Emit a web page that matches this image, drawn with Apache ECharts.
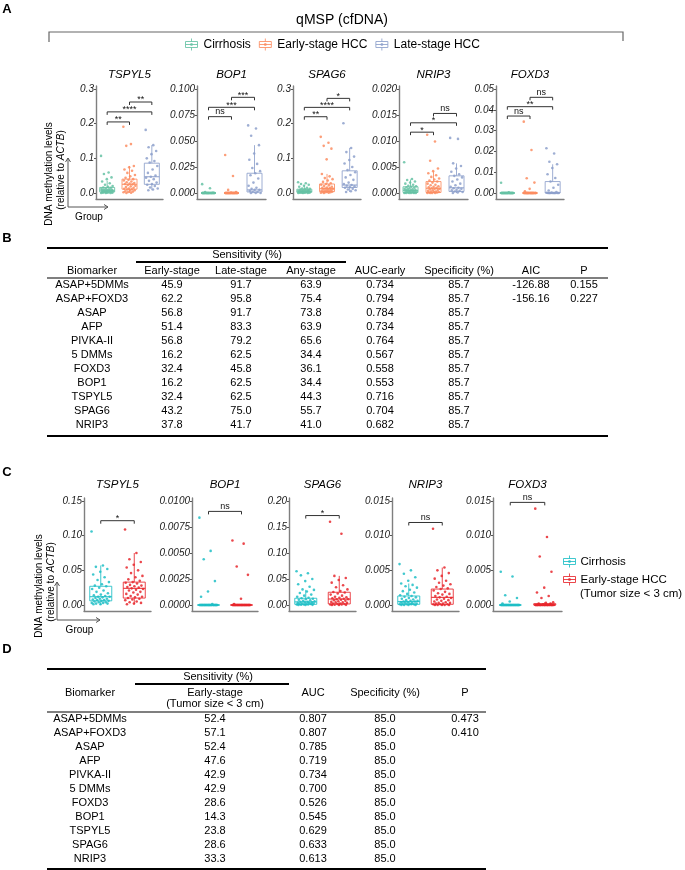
<!DOCTYPE html>
<html>
<head>
<meta charset="utf-8">
<script src="https://cdn.jsdelivr.net/npm/echarts@6.0.0/dist/echarts.min.js"></script>
<style>html,body{margin:0;padding:0;background:#fff;}#chart{width:685px;height:870px;}</style>
</head>
<body>
<div id="chart"></div>
<script>
// ================= DATA =================
const genes = ['TSPYL5', 'BOP1', 'SPAG6', 'NRIP3', 'FOXD3'];
const groupsA = ['Cirrhosis', 'Early-stage HCC', 'Late-stage HCC'];
const groupsC = ['Cirrhosis', 'Early-stage HCC (Tumor size < 3 cm)'];

// tick labels
const ticksA_TSPYL5 = ['0.0', '0.1', '0.2', '0.3'];
const ticksA_BOP1 = ['0.000', '0.025', '0.050', '0.075', '0.100'];
const ticksA_SPAG6 = ['0.0', '0.1', '0.2', '0.3'];
const ticksA_NRIP3 = ['0.000', '0.005', '0.010', '0.015', '0.020'];
const ticksA_FOXD3 = ['0.00', '0.01', '0.02', '0.03', '0.04', '0.05'];
const ticksC_TSPYL5 = ['0.00', '0.05', '0.10', '0.15'];
const ticksC_BOP1 = ['0.0000', '0.0025', '0.0050', '0.0075', '0.0100'];
const ticksC_SPAG6 = ['0.00', '0.05', '0.10', '0.15', '0.20'];
const ticksC_NRIP3 = ['0.000', '0.005', '0.010', '0.015'];
const ticksC_FOXD3 = ['0.000', '0.005', '0.010', '0.015'];

// box statistics [min, Q1, median, Q3, max] per group (panel A: cirrhosis, early, late)
const boxA_TSPYL5 = [[0, 0.003, 0.008, 0.016, 0.035], [0, 0.011, 0.025, 0.040, 0.078], [0.008, 0.025, 0.047, 0.086, 0.138]];
const boxA_BOP1 = [[0, 0, 0, 0, 0], [0, 0, 0, 0, 0], [0, 0.001, 0.003, 0.019, 0.046]];
const boxA_SPAG6 = [[0, 0.002, 0.005, 0.011, 0.024], [0, 0.004, 0.013, 0.026, 0.055], [0.003, 0.016, 0.023, 0.064, 0.130]];
const boxA_NRIP3 = [[0, 0.0001, 0.0005, 0.0012, 0.0026], [0, 0.0001, 0.0009, 0.0022, 0.0042], [0, 0.0003, 0.0010, 0.0033, 0.0057]];
const boxA_FOXD3 = [[0, 0, 0, 0, 0], [0, 0, 0, 0, 0], [0, 0, 0.0002, 0.0055, 0.0138]];

// individual samples (panel A)
const ptsA_TSPYL5 = [
  [0.107, 0.059, 0.055, 0.045, 0.040, 0.033, 0.028, 0.024, 0.020, 0.018, 0.016, 0.015, 0.013, 0.012, 0.011, 0.010, 0.009, 0.008, 0.008, 0.007, 0.006, 0.005, 0.005, 0.004, 0.004, 0.003, 0.003, 0.002, 0.002, 0.001, 0.001, 0.001, 0, 0, 0],
  [0.191, 0.141, 0.136, 0.078, 0.074, 0.068, 0.064, 0.058, 0.052, 0.048, 0.044, 0.040, 0.038, 0.036, 0.033, 0.031, 0.029, 0.027, 0.026, 0.025, 0.023, 0.021, 0.019, 0.017, 0.015, 0.013, 0.012, 0.011, 0.010, 0.008, 0.007, 0.005, 0.004, 0.003, 0.002, 0.001, 0],
  [0.182, 0.138, 0.132, 0.121, 0.112, 0.100, 0.092, 0.088, 0.078, 0.068, 0.058, 0.050, 0.047, 0.044, 0.040, 0.035, 0.030, 0.026, 0.024, 0.020, 0.016, 0.013, 0.010, 0.008]
];
const ptsA_BOP1 = [
  [0.0085, 0.0045, 0.0008, 0.0003, 0, 0, 0, 0, 0, 0, 0, 0, 0, 0, 0, 0, 0, 0, 0, 0, 0, 0, 0, 0, 0, 0, 0, 0, 0, 0, 0, 0, 0, 0, 0],
  [0.0365, 0.0163, 0.003, 0.001, 0.0005, 0, 0, 0, 0, 0, 0, 0, 0, 0, 0, 0, 0, 0, 0, 0, 0, 0, 0, 0, 0, 0, 0, 0, 0, 0, 0, 0, 0, 0, 0, 0, 0],
  [0.065, 0.062, 0.055, 0.046, 0.038, 0.032, 0.028, 0.024, 0.021, 0.019, 0.017, 0.014, 0.010, 0.007, 0.005, 0.004, 0.003, 0.003, 0.002, 0.001, 0.001, 0, 0, 0]
];
const ptsA_SPAG6 = [
  [0.031, 0.028, 0.026, 0.024, 0.021, 0.018, 0.015, 0.013, 0.012, 0.011, 0.010, 0.009, 0.008, 0.007, 0.007, 0.006, 0.006, 0.005, 0.005, 0.004, 0.004, 0.004, 0.003, 0.003, 0.003, 0.002, 0.002, 0.002, 0.001, 0.001, 0.001, 0.001, 0, 0, 0],
  [0.162, 0.145, 0.136, 0.128, 0.097, 0.055, 0.048, 0.043, 0.040, 0.036, 0.032, 0.028, 0.026, 0.024, 0.022, 0.020, 0.018, 0.016, 0.015, 0.014, 0.013, 0.012, 0.011, 0.010, 0.009, 0.008, 0.007, 0.006, 0.005, 0.004, 0.004, 0.003, 0.002, 0.002, 0.001, 0.001, 0],
  [0.201, 0.130, 0.118, 0.105, 0.095, 0.085, 0.075, 0.066, 0.060, 0.052, 0.045, 0.038, 0.030, 0.026, 0.023, 0.021, 0.019, 0.017, 0.015, 0.012, 0.010, 0.008, 0.005, 0.003]
];
const ptsA_NRIP3 = [
  [0.0059, 0.0027, 0.0025, 0.0022, 0.0020, 0.0018, 0.0016, 0.0014, 0.0013, 0.0012, 0.0011, 0.0010, 0.0009, 0.0008, 0.0007, 0.0007, 0.0006, 0.0005, 0.0005, 0.0004, 0.0004, 0.0003, 0.0003, 0.0002, 0.0002, 0.0002, 0.0001, 0.0001, 0.0001, 0, 0, 0, 0, 0, 0],
  [0.0112, 0.0099, 0.0062, 0.0047, 0.0042, 0.0038, 0.0034, 0.0031, 0.0028, 0.0026, 0.0024, 0.0022, 0.0020, 0.0018, 0.0016, 0.0015, 0.0013, 0.0012, 0.0011, 0.0010, 0.0009, 0.0008, 0.0008, 0.0007, 0.0006, 0.0005, 0.0004, 0.0003, 0.0003, 0.0002, 0.0002, 0.0001, 0.0001, 0, 0, 0, 0],
  [0.0106, 0.0104, 0.0057, 0.0052, 0.0047, 0.0041, 0.0036, 0.0033, 0.0030, 0.0026, 0.0022, 0.0018, 0.0015, 0.0012, 0.0010, 0.0009, 0.0008, 0.0006, 0.0005, 0.0004, 0.0003, 0.0002, 0.0001, 0]
];
const ptsA_FOXD3 = [
  [0.0049, 0.0003, 0, 0, 0, 0, 0, 0, 0, 0, 0, 0, 0, 0, 0, 0, 0, 0, 0, 0, 0, 0, 0, 0, 0, 0, 0, 0, 0, 0, 0, 0, 0, 0, 0],
  [0.0343, 0.0207, 0.0071, 0.005, 0.002, 0.0008, 0, 0, 0, 0, 0, 0, 0, 0, 0, 0, 0, 0, 0, 0, 0, 0, 0, 0, 0, 0, 0, 0, 0, 0, 0, 0, 0, 0, 0, 0, 0],
  [0.0215, 0.0190, 0.0150, 0.0138, 0.0120, 0.0090, 0.0072, 0.0055, 0.0040, 0.0025, 0.0012, 0.0005, 0.0002, 0.0001, 0, 0, 0, 0, 0, 0, 0, 0, 0, 0]
];

// significance brackets [groupFrom, groupTo, yLevel, label]
const sigA_TSPYL5 = [[1, 2, 0.2625, '**'], [0, 2, 0.234, '****'], [0, 1, 0.205, '**']];
const sigA_BOP1 = [[1, 2, 0.092, '***'], [0, 2, 0.0824, '***'], [0, 1, 0.0734, 'ns']];
const sigA_SPAG6 = [[1, 2, 0.273, '*'], [0, 2, 0.247, '****'], [0, 1, 0.220, '**']];
const sigA_NRIP3 = [[1, 2, 0.0153, 'ns'], [0, 2, 0.0135, '*'], [0, 1, 0.0117, '*']];
const sigA_FOXD3 = [[1, 2, 0.046, 'ns'], [0, 2, 0.0415, '**'], [0, 1, 0.037, 'ns']];

// panel C
const boxC_TSPYL5 = [[0, 0.006, 0.012, 0.027, 0.057], [0.001, 0.010, 0.024, 0.033, 0.075]];
const boxC_BOP1 = [[0, 0, 0, 0, 0], [0, 0, 0, 0, 0]];
const boxC_SPAG6 = [[0, 0.0013, 0.006, 0.013, 0.029], [0, 0.002, 0.0115, 0.0245, 0.056]];
const boxC_NRIP3 = [[0, 0.0001, 0.0005, 0.0013, 0.0031], [0, 0.0001, 0.0011, 0.0023, 0.0054]];
const boxC_FOXD3 = [[0, 0, 0, 0, 0], [0, 0, 0, 0.0002, 0.0004]];

const ptsC_TSPYL5 = [
  [0.106, 0.057, 0.055, 0.052, 0.048, 0.044, 0.040, 0.036, 0.033, 0.030, 0.028, 0.027, 0.025, 0.023, 0.021, 0.019, 0.017, 0.015, 0.014, 0.013, 0.012, 0.012, 0.011, 0.010, 0.009, 0.009, 0.008, 0.007, 0.007, 0.006, 0.006, 0.005, 0.004, 0.004, 0.003, 0.003, 0.002, 0.002, 0.001, 0.001],
  [0.109, 0.075, 0.066, 0.062, 0.058, 0.054, 0.050, 0.046, 0.042, 0.040, 0.037, 0.035, 0.033, 0.032, 0.031, 0.029, 0.028, 0.027, 0.026, 0.025, 0.024, 0.023, 0.022, 0.021, 0.019, 0.018, 0.016, 0.015, 0.013, 0.012, 0.011, 0.010, 0.009, 0.008, 0.007, 0.005, 0.004, 0.003, 0.002, 0.001]
];
const ptsC_BOP1 = [
  [0.0084, 0.0052, 0.0044, 0.0023, 0.0013, 0.0008, 0.0001, 0, 0, 0, 0, 0, 0, 0, 0, 0, 0, 0, 0, 0, 0, 0, 0, 0, 0, 0, 0, 0, 0, 0, 0, 0, 0, 0, 0, 0, 0, 0, 0, 0],
  [0.0062, 0.0059, 0.0037, 0.0029, 0.0006, 0.0001, 0, 0, 0, 0, 0, 0, 0, 0, 0, 0, 0, 0, 0, 0, 0, 0, 0, 0, 0, 0, 0, 0, 0, 0, 0, 0, 0, 0, 0, 0, 0, 0, 0, 0]
];
const ptsC_SPAG6 = [
  [0.065, 0.061, 0.057, 0.050, 0.046, 0.040, 0.035, 0.030, 0.029, 0.026, 0.023, 0.020, 0.018, 0.016, 0.014, 0.013, 0.012, 0.011, 0.010, 0.009, 0.008, 0.007, 0.006, 0.006, 0.005, 0.005, 0.004, 0.004, 0.003, 0.003, 0.002, 0.002, 0.002, 0.001, 0.001, 0.001, 0.0005, 0.0003, 0.0002, 0],
  [0.160, 0.137, 0.056, 0.052, 0.048, 0.043, 0.038, 0.034, 0.030, 0.027, 0.025, 0.024, 0.022, 0.020, 0.018, 0.016, 0.015, 0.014, 0.013, 0.012, 0.011, 0.011, 0.010, 0.009, 0.008, 0.007, 0.006, 0.005, 0.005, 0.004, 0.003, 0.003, 0.002, 0.002, 0.001, 0.001, 0.0005, 0.0003, 0.0002, 0]
];
const ptsC_NRIP3 = [
  [0.0059, 0.0050, 0.0045, 0.0040, 0.0035, 0.0031, 0.0029, 0.0027, 0.0025, 0.0022, 0.0020, 0.0018, 0.0016, 0.0014, 0.0013, 0.0012, 0.0011, 0.0010, 0.0009, 0.0008, 0.0007, 0.0006, 0.0006, 0.0005, 0.0005, 0.0004, 0.0004, 0.0003, 0.0003, 0.0002, 0.0002, 0.0002, 0.0001, 0.0001, 0.0001, 0.0001, 0, 0, 0, 0],
  [0.0110, 0.0054, 0.0050, 0.0046, 0.0042, 0.0038, 0.0035, 0.0032, 0.0030, 0.0028, 0.0026, 0.0024, 0.0023, 0.0021, 0.0019, 0.0017, 0.0016, 0.0015, 0.0013, 0.0012, 0.0011, 0.0010, 0.0009, 0.0008, 0.0007, 0.0006, 0.0005, 0.0004, 0.0003, 0.0003, 0.0002, 0.0002, 0.0001, 0.0001, 0.0001, 0, 0, 0, 0, 0]
];
const ptsC_FOXD3 = [
  [0.0048, 0.0041, 0.0014, 0.0010, 0.0005, 0.0002, 0, 0, 0, 0, 0, 0, 0, 0, 0, 0, 0, 0, 0, 0, 0, 0, 0, 0, 0, 0, 0, 0, 0, 0, 0, 0, 0, 0, 0, 0, 0, 0, 0, 0],
  [0.0139, 0.0098, 0.0070, 0.0048, 0.0025, 0.0018, 0.0013, 0.0010, 0.0004, 0.0003, 0.0002, 0.0002, 0.0001, 0, 0, 0, 0, 0, 0, 0, 0, 0, 0, 0, 0, 0, 0, 0, 0, 0, 0, 0, 0, 0, 0, 0, 0, 0, 0, 0]
];

const sigC_TSPYL5 = [[0, 1, 0.1216, '*']];
const sigC_BOP1 = [[0, 1, 0.0090, 'ns']];
const sigC_SPAG6 = [[0, 1, 0.172, '*']];
const sigC_NRIP3 = [[0, 1, 0.0119, 'ns']];
const sigC_FOXD3 = [[0, 1, 0.0148, 'ns']];

// table B
const tableB_header = ['Biomarker', 'Early-stage', 'Late-stage', 'Any-stage', 'AUC-early', 'Specificity (%)', 'AIC', 'P'];
const tableB_biomarker = ['ASAP+5DMMs', 'ASAP+FOXD3', 'ASAP', 'AFP', 'PIVKA-II', '5 DMMs', 'FOXD3', 'BOP1', 'TSPYL5', 'SPAG6', 'NRIP3'];
const tableB_early = ['45.9', '62.2', '56.8', '51.4', '56.8', '16.2', '32.4', '16.2', '32.4', '43.2', '37.8'];
const tableB_late = ['91.7', '95.8', '91.7', '83.3', '79.2', '62.5', '45.8', '62.5', '62.5', '75.0', '41.7'];
const tableB_any = ['63.9', '75.4', '73.8', '63.9', '65.6', '34.4', '36.1', '34.4', '44.3', '55.7', '41.0'];
const tableB_auc = ['0.734', '0.794', '0.784', '0.734', '0.764', '0.567', '0.558', '0.553', '0.716', '0.704', '0.682'];
const tableB_spec = ['85.7', '85.7', '85.7', '85.7', '85.7', '85.7', '85.7', '85.7', '85.7', '85.7', '85.7'];
const tableB_aic = ['-126.88', '-156.16', '', '', '', '', '', '', '', '', ''];
const tableB_p = ['0.155', '0.227', '', '', '', '', '', '', '', '', ''];

// table D
const tableD_header = ['Biomarker', 'Early-stage', 'AUC', 'Specificity (%)', 'P'];
const tableD_biomarker = ['ASAP+5DMMs', 'ASAP+FOXD3', 'ASAP', 'AFP', 'PIVKA-II', '5 DMMs', 'FOXD3', 'BOP1', 'TSPYL5', 'SPAG6', 'NRIP3'];
const tableD_early = ['52.4', '57.1', '52.4', '47.6', '42.9', '42.9', '28.6', '14.3', '23.8', '28.6', '33.3'];
const tableD_auc = ['0.807', '0.807', '0.785', '0.719', '0.734', '0.700', '0.526', '0.545', '0.629', '0.633', '0.613'];
const tableD_spec = ['85.0', '85.0', '85.0', '85.0', '85.0', '85.0', '85.0', '85.0', '85.0', '85.0', '85.0'];
const tableD_p = ['0.473', '0.410', '', '', '', '', '', '', '', '', ''];

// ================= LAYOUT & STYLE =================
const FONT = "'Liberation Sans', Arial, Helvetica, sans-serif";
const colorsA = ['#66C2A5', '#FC8D62', '#8DA0CB'];
const colorsC = ['#1FBEC6', '#E8272D'];
const gridLeftA = [96, 197, 293, 399, 496], gridWidthA = [67, 69, 68, 69, 68];
const gridLeftC = [84, 192, 289, 392, 493], gridWidthC = [67, 66, 67, 67, 69];
const gridTopA = 86, gridTopC = 498, gridH = 113;

const ticksA = [ticksA_TSPYL5, ticksA_BOP1, ticksA_SPAG6, ticksA_NRIP3, ticksA_FOXD3];
const ticksC = [ticksC_TSPYL5, ticksC_BOP1, ticksC_SPAG6, ticksC_NRIP3, ticksC_FOXD3];
const boxA = [boxA_TSPYL5, boxA_BOP1, boxA_SPAG6, boxA_NRIP3, boxA_FOXD3];
const boxC = [boxC_TSPYL5, boxC_BOP1, boxC_SPAG6, boxC_NRIP3, boxC_FOXD3];
const ptsA = [ptsA_TSPYL5, ptsA_BOP1, ptsA_SPAG6, ptsA_NRIP3, ptsA_FOXD3];
const ptsC = [ptsC_TSPYL5, ptsC_BOP1, ptsC_SPAG6, ptsC_NRIP3, ptsC_FOXD3];
const sigA = [sigA_TSPYL5, sigA_BOP1, sigA_SPAG6, sigA_NRIP3, sigA_FOXD3];
const sigC = [sigC_TSPYL5, sigC_BOP1, sigC_SPAG6, sigC_NRIP3, sigC_FOXD3];

const grid = [], xAxis = [], yAxis = [], series = [], titles = [];
function jitter(i) { return (((i * 0.6180339887) % 1) - 0.5) * 0.55; }

function addPanel(left, width, top, titleY, gene, groups, colors, ticks, boxes, pts, sigs, boxW, symSize) {
  const g = grid.length;
  grid.push({ left: left, top: top, width: width, height: gridH });
  const tv = ticks.map(Number);
  const tmax = tv[tv.length - 1];
  xAxis.push({ gridIndex: g, type: 'category', data: groups, boundaryGap: true,
    axisLine: { onZero: false, lineStyle: { color: '#7f7f7f', width: 1.4 } },
    axisTick: { show: false }, axisLabel: { show: false }, splitLine: { show: false } });
  xAxis.push({ gridIndex: g, type: 'value', min: -0.5, max: groups.length - 0.5, show: false, splitLine: { show: false } });
  yAxis.push({ gridIndex: g, type: 'value', min: -tmax * 6 / 104, max: tmax * 107 / 104,
    axisLine: { show: true, onZero: false, lineStyle: { color: '#7f7f7f', width: 1.4 } },
    axisTick: { show: true, length: 2, customValues: tv, lineStyle: { color: '#555', width: 1 } },
    axisLabel: { customValues: tv, margin: 2, fontSize: 10, fontStyle: 'italic', color: '#1a1a1a', fontFamily: FONT,
      formatter: function (v) { let b = 0; tv.forEach((t, i) => { if (Math.abs(t - v) < Math.abs(tv[b] - v)) b = i; }); return ticks[b]; } },
    splitLine: { show: false } });
  titles.push({ text: gene, left: left + width / 2, top: titleY, textAlign: 'center', textVerticalAlign: 'middle', padding: 0,
    textStyle: { fontSize: 11.5, fontStyle: 'italic', fontWeight: 'normal', fontFamily: FONT, color: '#000' } });
  // boxes (box + median + whiskers, ggplot style without caps)
  series.push({ type: 'custom', name: gene + ' box', xAxisIndex: 2 * g + 1, yAxisIndex: g, silent: true, z: 2, clip: false,
    data: boxes.map((b, k) => [k, b[0], b[1], b[2], b[3], b[4]]), encode: { x: 0, y: [1, 2, 3, 4, 5] },
    renderItem: function (params, api) {
      const k = api.value(0);
      const c = colors[k];
      const x = api.coord([k, 0])[0];
      const y = [1, 2, 3, 4, 5].map(d => api.coord([k, api.value(d)])[1]);
      const hw = boxW / 2;
      const st = { stroke: c, lineWidth: 1, opacity: 0.85 };
      return { type: 'group', children: [
        { type: 'line', shape: { x1: x, y1: y[3], x2: x, y2: y[4] }, style: st },
        { type: 'line', shape: { x1: x, y1: y[1], x2: x, y2: y[0] }, style: st },
        { type: 'rect', shape: { x: x - hw, y: y[3], width: boxW, height: Math.max(0.01, y[1] - y[3]) }, style: Object.assign({ fill: 'rgba(255,255,255,0)' }, st) },
        { type: 'line', shape: { x1: x - hw, y1: y[2], x2: x + hw, y2: y[2] }, style: Object.assign({}, st, { lineWidth: 1.2 }) }
      ] };
    } });
  pts.forEach((arr, k) => {
    series.push({ type: 'scatter', name: groups[k], xAxisIndex: 2 * g + 1, yAxisIndex: g, symbolSize: symSize, silent: true, z: 3,
      itemStyle: { color: colors[k], opacity: 0.85 },
      data: arr.map((v, i) => [k + jitter(i), v]) });
  });
  series.push({ type: 'custom', name: gene + ' test', xAxisIndex: 2 * g + 1, yAxisIndex: g, silent: true, z: 4, clip: false,
    data: sigs.map(s => [s[0], s[1], s[2]]), encode: { x: [0, 1], y: 2 },
    renderItem: function (params, api) {
      const s = sigs[params.dataIndex];
      const p1 = api.coord([api.value(0), api.value(2)]);
      const p2 = api.coord([api.value(1), api.value(2)]);
      const star = s[3] !== 'ns';
      return { type: 'group', children: [
        { type: 'polyline', shape: { points: [[p1[0], p1[1] + 3], [p1[0], p1[1]], [p2[0], p2[1]], [p2[0], p2[1] + 3]] },
          style: { stroke: '#333', lineWidth: 1, fill: null } },
        { type: 'text', x: (p1[0] + p2[0]) / 2, y: p1[1] - (star ? 2 : 5),
          style: { text: s[3], align: 'center', verticalAlign: 'middle', fontSize: 9, fontFamily: FONT, fill: '#111' } }
      ] };
    } });
}

genes.forEach((gn, i) => addPanel(gridLeftA[i], gridWidthA[i], gridTopA, 75, gn, groupsA, colorsA, ticksA[i], boxA[i], ptsA[i], sigA[i], 15, 2.6));
genes.forEach((gn, i) => addPanel(gridLeftC[i], gridWidthC[i], gridTopC, 485, gn, groupsC, colorsC, ticksC[i], boxC[i], ptsC[i], sigC[i], 22, 2.6));

titles.push({ text: 'qMSP (cfDNA)', left: 342, top: 20, textAlign: 'center', textVerticalAlign: 'middle', padding: 0,
  textStyle: { fontSize: 14, fontWeight: 'normal', fontFamily: FONT, color: '#000' } });

// ================= GRAPHICS (labels, tables) =================
const graphic = [];
function T(x, y, text, o, extra) {
  graphic.push(Object.assign({ type: 'text', x: x, y: y, silent: true,
    style: Object.assign({ text: text, fill: '#000', fontSize: 11, fontFamily: FONT, align: 'center', verticalAlign: 'middle' }, o || {}) }, extra || {}));
}
function L(x1, y1, x2, y2, w, c) {
  graphic.push({ type: 'line', silent: true, shape: { x1: x1, y1: y1, x2: x2, y2: y2 }, style: { stroke: c || '#000', lineWidth: w || 1 } });
}
function P(points, w, c) {
  graphic.push({ type: 'polyline', silent: true, shape: { points: points }, style: { stroke: c || '#000', lineWidth: w || 1, fill: null } });
}

// panel letters
T(7, 9, 'A', { fontSize: 13, fontWeight: 'bold' });
T(7, 238, 'B', { fontSize: 13, fontWeight: 'bold' });
T(7, 472, 'C', { fontSize: 13, fontWeight: 'bold' });
T(7, 649, 'D', { fontSize: 13, fontWeight: 'bold' });

// qMSP bracket
P([[49, 42], [49, 32], [623, 32], [623, 41]], 1.2, '#666');

// y-axis titles & group arrows
function yTitle(x1, x2, cy) {
  T(x1, cy, 'DNA methylation levels', { fontSize: 10 }, { rotation: Math.PI / 2 });
  T(x2, cy - 4, '(relative to {i|ACTB})', { fontSize: 10, rich: { i: { fontSize: 10, fontStyle: 'italic', fontFamily: FONT } } }, { rotation: Math.PI / 2 });
}
function groupArrow(x, yTop, yCorner, xRight) {
  P([[x, yTop], [x, yCorner], [xRight, yCorner]], 1, '#555');
  P([[x - 2.5, yTop + 4], [x, yTop], [x + 2.5, yTop + 4]], 1, '#555');
  P([[xRight - 4, yCorner - 2.5], [xRight, yCorner], [xRight - 4, yCorner + 2.5]], 1, '#555');
  T((x + xRight) / 2 + 1, yCorner + 10, 'Group', { fontSize: 10 });
}
yTitle(49, 61, 174);
groupArrow(68, 158, 207, 108);
yTitle(39, 51, 586);
groupArrow(57, 582, 620, 100);

// table B
const colB = [92, 172, 241, 311, 380, 459, 531, 584];
L(47, 248, 608, 248, 2);
T(247, 255, 'Sensitivity (%)');
L(136, 262, 346, 262, 2);
tableB_header.forEach((h, j) => T(colB[j], 271, h));
L(47, 278, 608, 278, 1.2);
const colsB = [tableB_biomarker, tableB_early, tableB_late, tableB_any, tableB_auc, tableB_spec, tableB_aic, tableB_p];
colsB.forEach((col, j) => col.forEach((v, i) => { if (v) T(colB[j], 285 + 14 * i, v); }));
L(47, 436, 608, 436, 2);

// table D
const colD = [90, 215, 313, 385, 465];
L(47, 669, 486, 669, 2);
T(218, 677, 'Sensitivity (%)');
L(135, 684, 289, 684, 2);
tableD_header.forEach((h, j) => T(colD[j], 693, h));
T(colD[1], 704, '(Tumor size < 3 cm)');
L(47, 712, 486, 712, 1.2);
const colsD = [tableD_biomarker, tableD_early, tableD_auc, tableD_spec, tableD_p];
colsD.forEach((col, j) => col.forEach((v, i) => { if (v) T(colD[j], 719 + 14 * i, v); }));
L(47, 869, 486, 869, 2);

// ================= LEGENDS =================
const ICON = 'path://M1,3L13,3L13,9L1,9Z M1,6L13,6 M7,0L7,3 M7,9L7,12 M6.2,5.2L7.8,5.2L7.8,6.8L6.2,6.8Z';
const legend = [
  { left: 185, top: 38, padding: 0, itemGap: 8, itemWidth: 14, itemHeight: 12, selectedMode: false,
    textStyle: { fontSize: 12, fontFamily: FONT, color: '#000' },
    data: groupsA.map((n, k) => ({ name: n, icon: ICON, itemStyle: { color: 'rgba(0,0,0,0)', borderColor: colorsA[k], borderWidth: 1 } })) },
  { left: 563, top: 555, orient: 'vertical', padding: 0, itemGap: 5, itemWidth: 12, itemHeight: 14, selectedMode: false,
    textStyle: { fontSize: 11.5, fontFamily: FONT, color: '#000' },
    formatter: function (name) { return name.split(' (')[0]; },
    data: groupsC.map((n, k) => ({ name: n, icon: ICON, itemStyle: { color: 'rgba(0,0,0,0)', borderColor: colorsC[k], borderWidth: 1 } })) }
];
// second line of the second legend entry in panel C
T(580, 594, '(' + groupsC[1].split(' (')[1], { fontSize: 11.5, align: 'left' });

const chart = echarts.init(document.getElementById('chart'), null, { renderer: 'canvas' });
chart.setOption({
  animation: false,
  backgroundColor: '#fff',
  textStyle: { fontFamily: FONT },
  title: titles,
  legend: legend,
  grid: grid,
  xAxis: xAxis,
  yAxis: yAxis,
  series: series,
  graphic: graphic
});
</script>
</body>
</html>
